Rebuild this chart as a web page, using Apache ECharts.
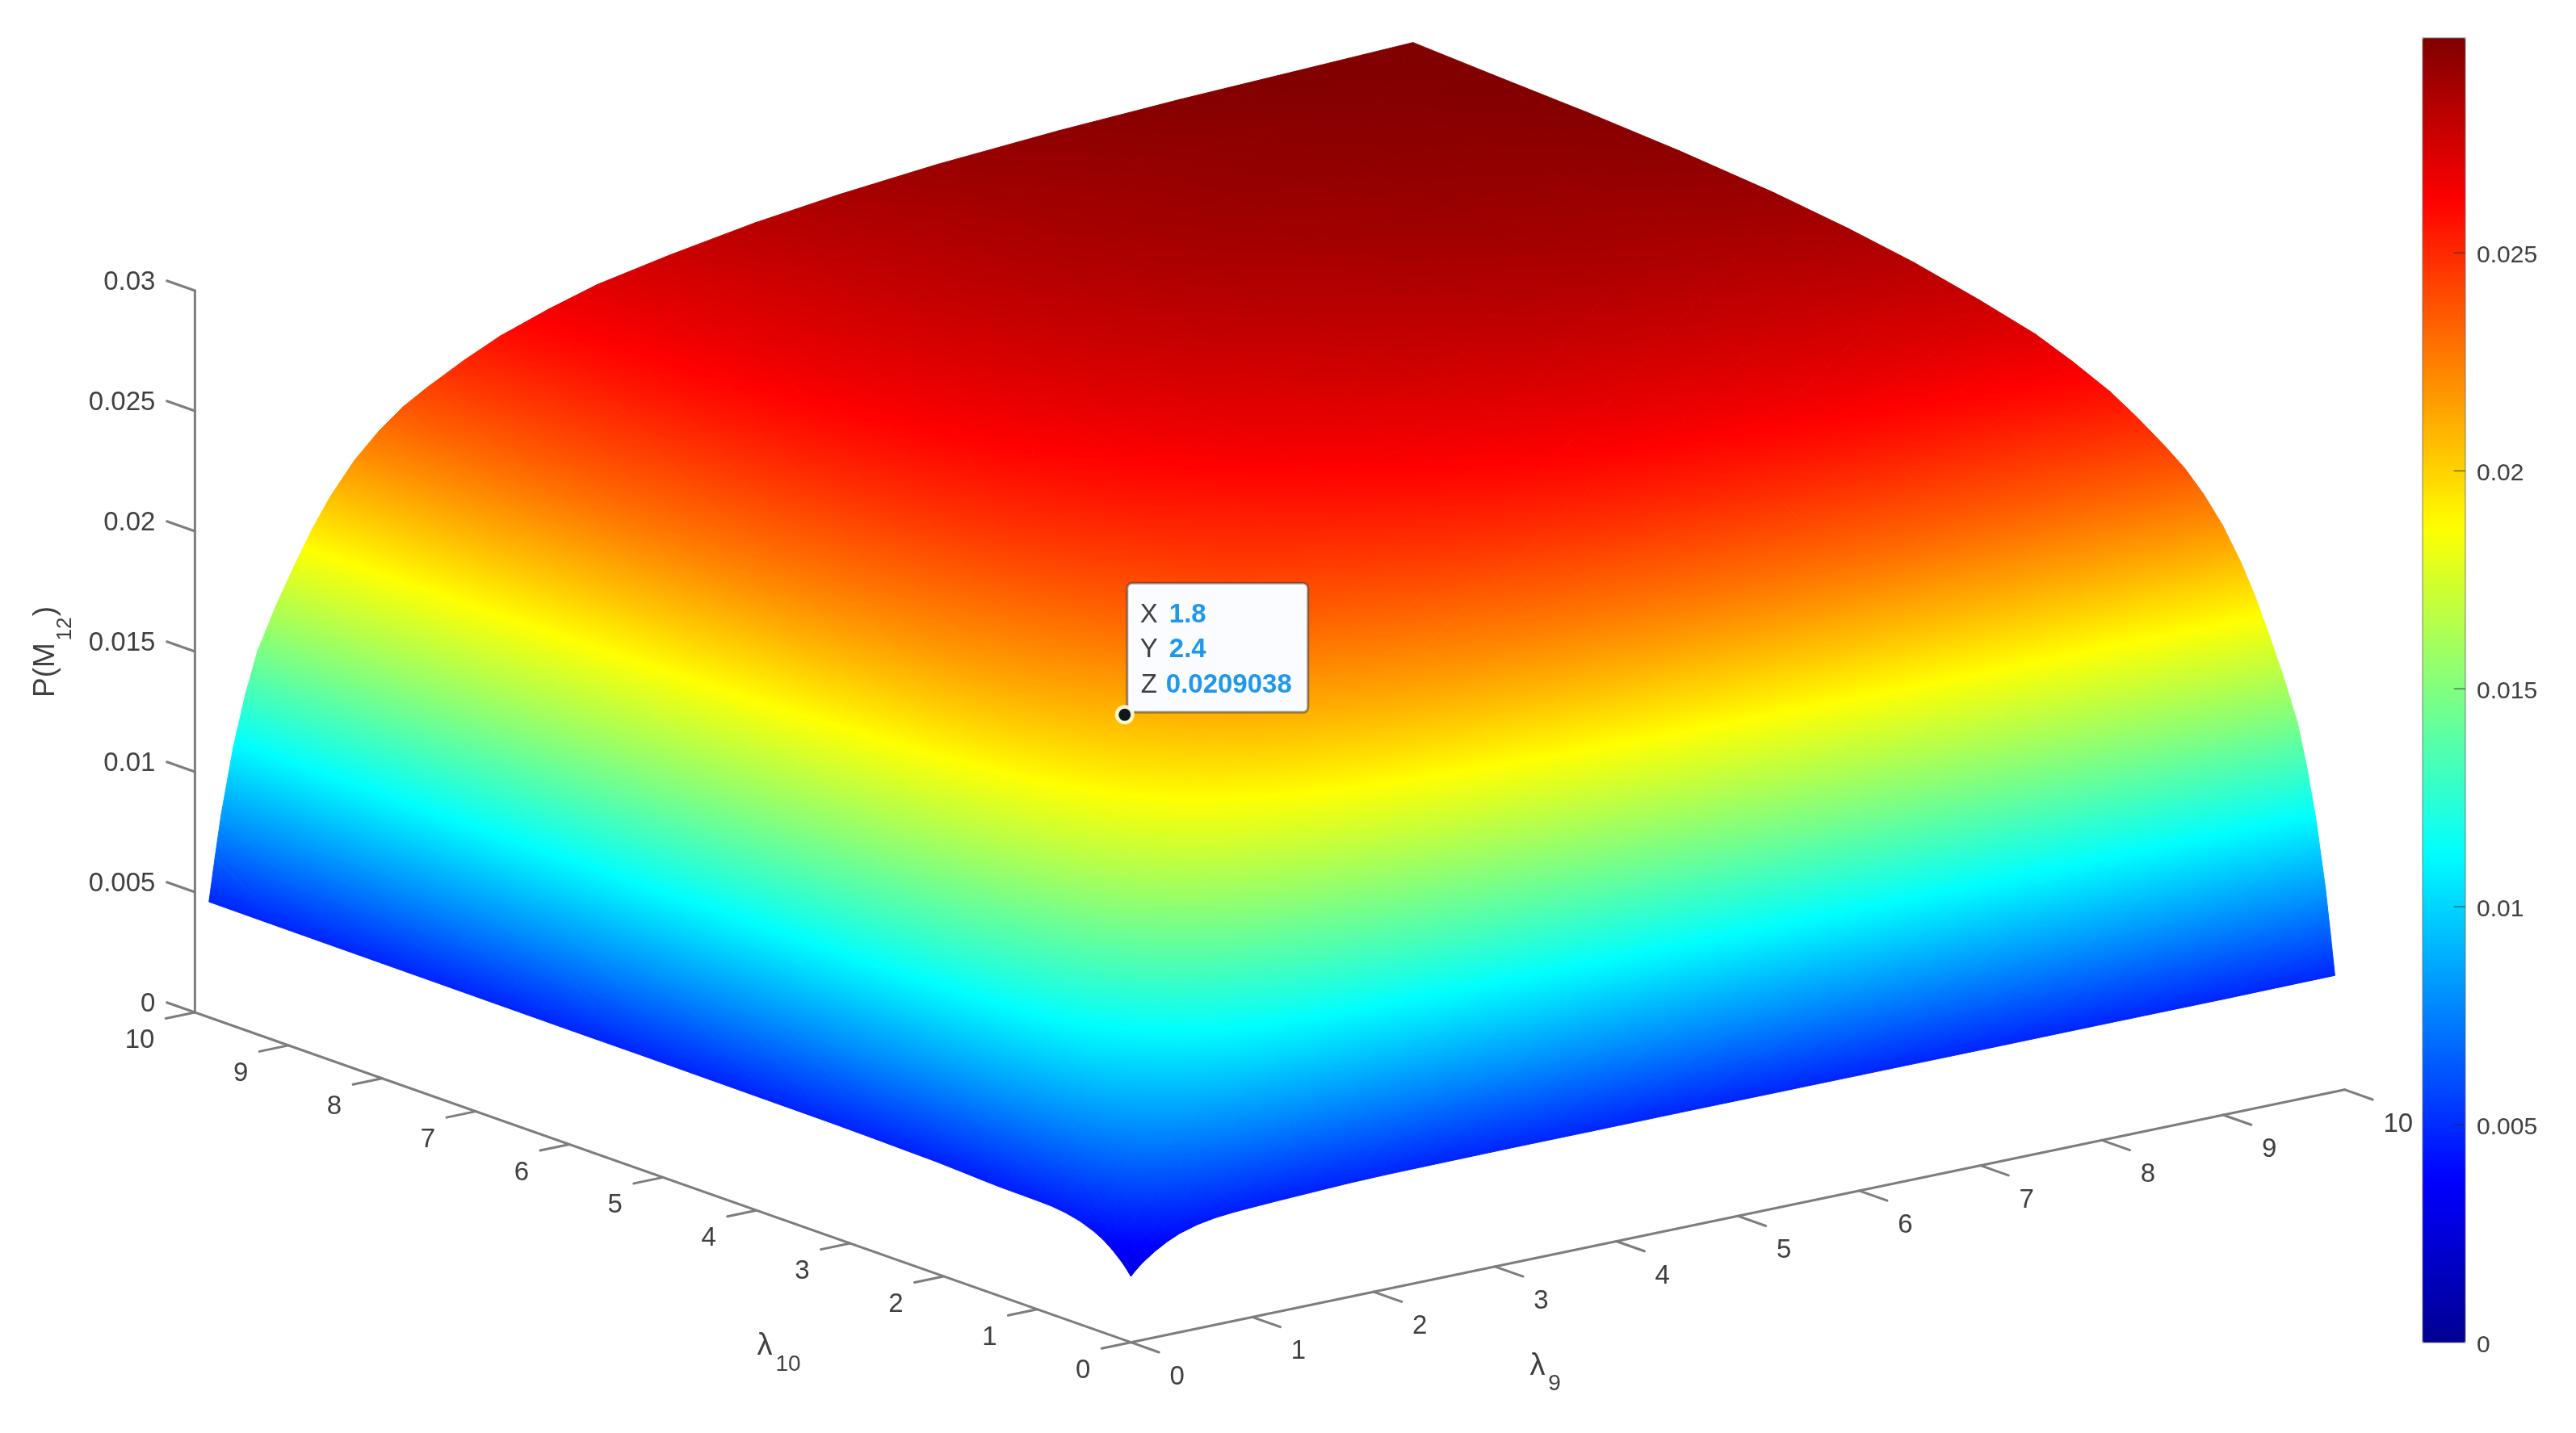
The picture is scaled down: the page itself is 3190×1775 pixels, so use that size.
<!DOCTYPE html>
<html>
<head>
<meta charset="utf-8">
<title>P(M12) surface</title>
<style>
  html, body { margin: 0; padding: 0; background: #fff; }
  #chart { width: 3190px; height: 1775px; }
</style>
<script src="https://cdn.jsdelivr.net/npm/echarts@6/dist/echarts.min.js"></script>
</head>
<body>
<div id="chart"></div>
<script>
// Surface nodes (denser near 0 where the surface is steep)
const lambda9 = [0, 0.05, 0.1, 0.2, 0.3, 0.4, 0.55, 0.7, 0.85, 1, 1.2, 1.4, 1.6, 1.8, 2.1, 2.4, 2.8, 3.2, 3.8, 4.5, 5.2, 6, 7, 8, 9, 9.92];
const lambda10 = [0, 0.05, 0.1, 0.2, 0.3, 0.4, 0.55, 0.7, 0.85, 1, 1.2, 1.4, 1.6, 1.8, 2.1, 2.4, 2.8, 3.2, 3.8, 4.5, 5.2, 6, 7, 8, 9, 9.85];

// P(M12) in units of 1e-5: one row per lambda9 node, one column per lambda10 node
const pM12 = [
  [274, 300, 322, 358, 387, 408, 430, 443, 450, 452, 453, 454, 457, 461, 466, 468, 471, 473, 474, 475, 476, 476, 477, 478, 479, 480],
  [300, 326, 348, 389, 426, 457, 492, 517, 536, 553, 569, 580, 591, 599, 607, 615, 623, 629, 636, 642, 646, 651, 654, 657, 658, 660],
  [322, 348, 373, 422, 467, 507, 551, 586, 615, 641, 667, 688, 705, 719, 734, 748, 762, 774, 786, 798, 805, 813, 819, 824, 826, 830],
  [358, 389, 422, 487, 547, 600, 658, 708, 752, 792, 834, 867, 895, 915, 942, 965, 988, 1008, 1027, 1047, 1061, 1073, 1083, 1090, 1094, 1100],
  [387, 426, 467, 547, 619, 683, 753, 813, 869, 919, 972, 1013, 1048, 1074, 1108, 1137, 1167, 1192, 1217, 1242, 1259, 1275, 1288, 1298, 1302, 1310],
  [410, 457, 507, 600, 683, 756, 835, 904, 968, 1026, 1087, 1135, 1175, 1205, 1244, 1279, 1313, 1342, 1371, 1400, 1421, 1439, 1454, 1465, 1471, 1480],
  [432, 492, 551, 658, 753, 835, 923, 1001, 1073, 1137, 1207, 1261, 1306, 1340, 1384, 1422, 1461, 1494, 1527, 1560, 1583, 1604, 1621, 1633, 1640, 1650],
  [445, 517, 586, 708, 813, 904, 1001, 1086, 1166, 1236, 1313, 1373, 1421, 1458, 1506, 1549, 1591, 1627, 1663, 1699, 1726, 1749, 1768, 1781, 1789, 1800],
  [452, 536, 615, 752, 869, 968, 1073, 1166, 1253, 1329, 1412, 1477, 1529, 1569, 1621, 1667, 1713, 1752, 1791, 1831, 1858, 1883, 1904, 1920, 1928, 1940],
  [456, 553, 641, 792, 919, 1026, 1137, 1236, 1329, 1411, 1499, 1568, 1623, 1666, 1721, 1769, 1818, 1859, 1901, 1942, 1972, 1999, 2022, 2038, 2047, 2060],
  [461, 569, 667, 834, 972, 1087, 1207, 1313, 1412, 1499, 1593, 1666, 1725, 1770, 1828, 1880, 1932, 1976, 2020, 2063, 2096, 2124, 2149, 2166, 2176, 2190],
  [465, 580, 688, 867, 1013, 1135, 1261, 1373, 1477, 1568, 1666, 1742, 1804, 1850, 1912, 1965, 2019, 2065, 2111, 2157, 2191, 2221, 2247, 2265, 2275, 2290],
  [469, 591, 705, 895, 1048, 1175, 1306, 1421, 1529, 1623, 1725, 1804, 1868, 1916, 1979, 2034, 2090, 2137, 2185, 2232, 2266, 2298, 2324, 2344, 2354, 2370],
  [473, 599, 719, 915, 1074, 1205, 1340, 1458, 1569, 1666, 1770, 1850, 1916, 1964, 2029, 2090, 2143, 2191, 2240, 2288, 2324, 2356, 2383, 2403, 2414, 2430],
  [476, 607, 734, 942, 1108, 1244, 1384, 1506, 1621, 1721, 1828, 1912, 1979, 2029, 2096, 2154, 2213, 2263, 2313, 2363, 2400, 2433, 2461, 2482, 2493, 2510],
  [477, 615, 748, 965, 1137, 1279, 1422, 1549, 1667, 1769, 1880, 1965, 2034, 2090, 2154, 2214, 2275, 2326, 2377, 2429, 2467, 2501, 2530, 2551, 2562, 2580],
  [478, 623, 762, 988, 1167, 1313, 1461, 1591, 1713, 1818, 1932, 2019, 2090, 2143, 2213, 2275, 2336, 2389, 2442, 2495, 2533, 2568, 2598, 2620, 2632, 2650],
  [479, 629, 774, 1008, 1192, 1342, 1494, 1627, 1752, 1859, 1976, 2065, 2137, 2191, 2263, 2326, 2389, 2443, 2496, 2550, 2591, 2626, 2657, 2679, 2692, 2710],
  [479, 636, 786, 1027, 1217, 1371, 1527, 1663, 1791, 1901, 2020, 2111, 2185, 2240, 2313, 2377, 2442, 2496, 2551, 2606, 2648, 2684, 2716, 2738, 2751, 2770],
  [480, 642, 798, 1047, 1242, 1400, 1560, 1699, 1831, 1942, 2063, 2157, 2232, 2288, 2363, 2429, 2495, 2550, 2606, 2663, 2704, 2742, 2774, 2797, 2810, 2830],
  [480, 646, 805, 1061, 1259, 1421, 1583, 1726, 1858, 1972, 2096, 2191, 2266, 2324, 2400, 2467, 2533, 2591, 2648, 2704, 2747, 2785, 2818, 2842, 2855, 2875],
  [480, 651, 813, 1073, 1275, 1439, 1604, 1749, 1883, 1999, 2124, 2221, 2298, 2356, 2433, 2501, 2568, 2626, 2684, 2742, 2785, 2823, 2857, 2881, 2895, 2915],
  [480, 654, 819, 1083, 1288, 1454, 1621, 1768, 1904, 2022, 2149, 2247, 2324, 2383, 2461, 2530, 2598, 2657, 2716, 2774, 2818, 2857, 2891, 2916, 2929, 2950],
  [481, 657, 824, 1090, 1298, 1465, 1633, 1781, 1920, 2038, 2166, 2265, 2344, 2403, 2482, 2551, 2620, 2679, 2738, 2797, 2842, 2881, 2916, 2941, 2956, 2975],
  [481, 658, 826, 1094, 1302, 1471, 1640, 1789, 1928, 2047, 2176, 2275, 2354, 2414, 2493, 2562, 2632, 2692, 2751, 2810, 2855, 2895, 2929, 2956, 2972, 2993],
  [483, 660, 830, 1100, 1310, 1480, 1650, 1800, 1940, 2060, 2190, 2290, 2370, 2430, 2510, 2580, 2650, 2710, 2770, 2830, 2875, 2915, 2950, 2975, 2993, 3010],
];
const zAt = (i, j) => pM12[i][j] * 1e-5;

// Tick labels
const lambdaTicks = [0, 1, 2, 3, 4, 5, 6, 7, 8, 9, 10];
const zTicks = [0, 0.005, 0.01, 0.015, 0.02, 0.025, 0.03];
const colorbarTicks = [0, 0.005, 0.01, 0.015, 0.02, 0.025];
const colorMax = 0.02993;

// Data tip
const tipX = 1.8;
const tipY = 2.4;
const tipZ = 0.0209038;

const jetColors = ["#000090", "#0000ff", "#0080ff", "#00ffff", "#80ff80", "#ffff00", "#ff8000", "#ff0000", "#800000"];

const FONT = '"Liberation Sans", Arial, sans-serif';
const AXIS_COLOR = "#7d7d7d";
const TEXT_COLOR = "#404040";

// Oblique view of the box on the flat plane axes
const VIEW = {
  originX: 1400.4, originY: 1662.7,
  l9X: 150.3, l9Y: -31.3,
  l10X: -115.9, l10Y: -40.87,
  zY: -29800,
};
const project = (l9, l10, z) => [
  VIEW.originX + VIEW.l9X * l9 + VIEW.l10X * l10,
  VIEW.originY + VIEW.l9Y * l9 + VIEW.l10Y * l10 + VIEW.zY * z,
];

// jet lookup, same stops as the visualMap
const hexToRgb = (h) => [1, 3, 5].map((i) => parseInt(h.slice(i, i + 2), 16));
const jetAt = (z) => {
  const t = Math.min(1, Math.max(0, z / colorMax)) * (jetColors.length - 1);
  const i = Math.min(jetColors.length - 2, Math.floor(t));
  const a = hexToRgb(jetColors[i]);
  const b = hexToRgb(jetColors[i + 1]);
  const c = a.map((v, k) => Math.round(v + (b[k] - v) * (t - i)));
  return `rgb(${c[0]},${c[1]},${c[2]})`;
};

// Fill for one triangle: a linear gradient along the screen direction in which z grows
const triangleFill = (pts, zs) => {
  const [p0, p1, p2] = pts;
  const d1x = p1[0] - p0[0], d1y = p1[1] - p0[1];
  const d2x = p2[0] - p0[0], d2y = p2[1] - p0[1];
  const dz1 = zs[1] - zs[0], dz2 = zs[2] - zs[0];
  const det = d1x * d2y - d1y * d2x;
  const zMin = Math.min(...zs), zMax = Math.max(...zs);
  if (Math.abs(det) < 1e-6 || zMax - zMin < 1e-9) return jetAt((zMin + zMax) / 2);
  const gx = (dz1 * d2y - dz2 * d1y) / det;
  const gy = (d1x * dz2 - d2x * dz1) / det;
  const g2 = gx * gx + gy * gy;
  const start = pts[zs.indexOf(zMin)];
  const k = (zMax - zMin) / g2;
  const stops = [{ offset: 0, color: jetAt(zMin) }];
  for (let n = 1; n < jetColors.length - 1; n++) {
    const zn = (colorMax * n) / (jetColors.length - 1);
    if (zn > zMin && zn < zMax) {
      stops.push({ offset: (zn - zMin) / (zMax - zMin), color: jetAt(zn) });
    }
  }
  stops.push({ offset: 1, color: jetAt(zMax) });
  return new echarts.graphic.LinearGradient(start[0], start[1], start[0] + gx * k, start[1] + gy * k, stops, true);
};

const surfaceCells = [];
for (let i = 0; i < lambda9.length - 1; i++) {
  for (let j = 0; j < lambda10.length - 1; j++) {
    surfaceCells.push([i, j, zAt(i, j)]);
  }
}

const renderCell = (params, api) => {
  const i = api.value(0), j = api.value(1);
  const corner = (a, b) => api.coord(project(lambda9[a], lambda10[b], zAt(a, b)));
  const tri = (n) => {
    const pts = n.map((c) => corner(c[0], c[1]));
    const zs = n.map((c) => zAt(c[0], c[1]));
    const fill = triangleFill(pts, zs);
    return {
      type: "polygon",
      shape: { points: pts },
      style: { fill, stroke: fill, lineWidth: 1, lineJoin: "round" },
      silent: true,
    };
  };
  return {
    type: "group",
    children: [
      tri([[i, j], [i + 1, j], [i + 1, j + 1]]),
      tri([[i, j], [i + 1, j + 1], [i, j + 1]]),
    ],
  };
};

const seg = (a, b, width) => ({
  type: "line",
  shape: { x1: a[0], y1: a[1], x2: b[0], y2: b[1] },
  style: { stroke: AXIS_COLOR, lineWidth: width || 3, lineCap: "round" },
  silent: true,
});
const label = (text, x, y, size, align, extra) => ({
  type: "text",
  x, y,
  silent: true,
  style: Object.assign({
    text: String(text), fill: TEXT_COLOR, fontFamily: FONT, fontSize: size, align: align || "center", verticalAlign: "middle",
  }, extra || {}),
});

const renderAxes = (params, api) => {
  const at = (a, b, z) => api.coord(project(a, b, z));
  const children = [
    seg(at(0, 0, 0), at(10, 0, 0)),
    seg(at(0, 0, 0), at(0, 10, 0)),
    seg(at(0, 10, 0), at(0, 10, 0.03)),
  ];
  lambdaTicks.forEach((t) => {
    // lambda9 axis: ticks point away from the lambda10 direction
    const p9 = at(t, 0, 0);
    children.push(seg(p9, at(t, -0.3, 0)));
    children.push(label(t, p9[0] + 48, p9[1] + 43, 33, "left"));
    // lambda10 axis
    const p10 = at(0, t, 0);
    children.push(seg(p10, at(-0.24, t, 0)));
    children.push(label(t, p10[0] - 50, p10[1] + 35, 33, "right"));
  });
  zTicks.forEach((t) => {
    const p = at(0, 10, t);
    children.push(seg(p, at(0, 10.3, t)));
    children.push(label(t, p[0] - 49, p[1] - 10.5, 33, "right"));
  });
  // Axis titles
  children.push(label("λ", 947, 1668, 38));
  children.push(label("10", 976, 1690, 28));
  children.push(label("λ", 1904, 1693, 38));
  children.push(label("9", 1925, 1714, 28));
  children.push(Object.assign(label("P(M", 57, 830, 37), { rotation: Math.PI / 2 }));
  children.push(Object.assign(label("12", 81, 779, 26), { rotation: Math.PI / 2 }));
  children.push(Object.assign(label(")", 57, 757, 37), { rotation: Math.PI / 2 }));
  return { type: "group", children };
};

const renderTip = (params, api) => {
  const p = api.coord(project(tipX, tipY, tipZ));
  const left = p[0] + 3, top = p[1] - 163;
  const blue = "#1f97ea";
  const rows = [["X", tipX, 40], ["Y", tipY, 83], ["Z", tipZ, 127]];
  const children = [
    {
      type: "rect",
      shape: { x: left, y: top, width: 224, height: 160, r: 6 },
      style: { fill: "#fbfcff", stroke: "rgba(70,60,60,0.55)", lineWidth: 3 },
      silent: true,
    },
    { type: "circle", shape: { cx: p[0], cy: p[1], r: 12 }, style: { fill: "rgba(255,255,225,0.9)" }, silent: true },
    { type: "circle", shape: { cx: p[0], cy: p[1], r: 7.5 }, style: { fill: "#10181c" }, silent: true },
  ];
  rows.forEach((r) => {
    children.push(label(r[0], left + 27, top + r[2], 33));
    children.push(label(r[1], left + (r[0] === "Z" ? 48 : 52), top + r[2], 33, "left", { fill: blue, fontWeight: "bold" }));
  });
  return { type: "group", children };
};

// Colorbar frame, short inner ticks and their labels, on top of the visualMap bar
const renderColorbarTick = (params, api) => {
  const v = api.value(0);
  const a = api.coord([1, v]), b = api.coord([0.73, v]);
  const children = [label(v, a[0] + 14, a[1] + 4, 30, "left")];
  if (v > 0) {
    children.push({
      type: "line",
      shape: { x1: a[0], y1: a[1], x2: b[0], y2: b[1] },
      style: { stroke: "rgba(40,40,40,0.45)", lineWidth: 2 },
      silent: true,
    });
  }
  return { type: "group", children };
};
const renderColorbarFrame = (params, api) => {
  const a = api.coord([0, colorMax]), b = api.coord([1, 0]);
  return {
    type: "rect",
    shape: { x: a[0], y: a[1], width: b[0] - a[0], height: b[1] - a[1] },
    style: { fill: "none", stroke: "rgba(110,110,110,0.45)", lineWidth: 2 },
    silent: true,
  };
};

const chart = echarts.init(document.getElementById("chart"));
chart.setOption({
  animation: false,
  backgroundColor: "#fff",
  tooltip: { show: false },
  grid: [
    { left: 0, top: 0, width: 3190, height: 1775 },
    { left: 3000, top: 47, width: 53, height: 1616 },
  ],
  // flat plane the view is projected on
  xAxis: [
    { gridIndex: 0, type: "value", min: 0, max: 3190, show: false },
    { gridIndex: 1, type: "value", min: 0, max: 1, show: false },
  ],
  yAxis: [
    { gridIndex: 0, type: "value", min: 0, max: 1775, inverse: true, show: false },
    { gridIndex: 1, type: "value", min: 0, max: colorMax, show: false },
  ],
  visualMap: {
    type: "continuous",
    seriesIndex: 0,
    dimension: 2,
    min: 0,
    max: colorMax,
    left: 3000,
    top: 47,
    itemWidth: 53,
    itemHeight: 1616,
    padding: 0,
    calculable: false,
    hoverLink: false,
    text: null,
    inRange: { color: jetColors },
  },
  series: [
    { type: "custom", xAxisIndex: 0, yAxisIndex: 0, clip: false, silent: true, renderItem: renderCell, data: surfaceCells, encode: { x: -1, y: -1 } },
    { type: "custom", xAxisIndex: 0, yAxisIndex: 0, clip: false, silent: true, renderItem: renderAxes, data: [[0, 0]], encode: { x: -1, y: -1 } },
    { type: "custom", xAxisIndex: 0, yAxisIndex: 0, clip: false, silent: true, renderItem: renderTip, data: [[tipX, tipY, tipZ]], encode: { x: -1, y: -1 } },
    { type: "custom", xAxisIndex: 1, yAxisIndex: 1, clip: false, silent: true, z: 10, renderItem: renderColorbarTick, data: colorbarTicks.map((v) => [v]), encode: { x: -1, y: 0 } },
    { type: "custom", xAxisIndex: 1, yAxisIndex: 1, clip: false, silent: true, z: 10, renderItem: renderColorbarFrame, data: [[0]], encode: { x: -1, y: -1 } },
  ],
});
</script>
</body>
</html>
